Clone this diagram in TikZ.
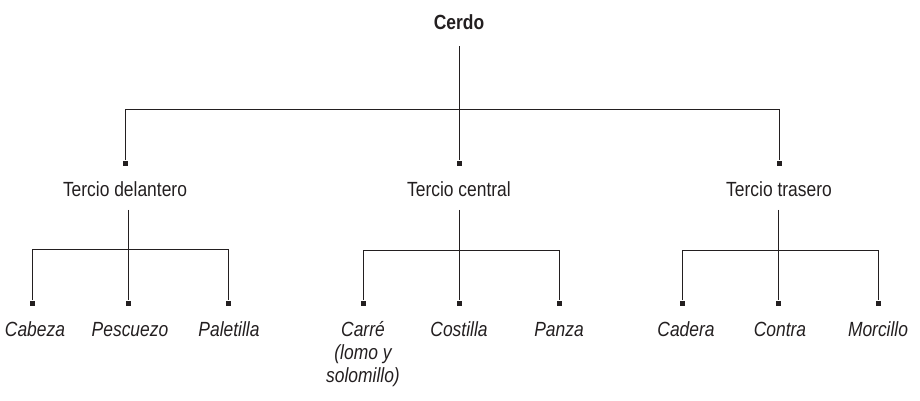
\documentclass[tikz,border=0pt]{standalone}
\usepackage{fontspec}
\setmainfont{Liberation Sans}[FakeStretch=0.85]
\usepackage{tikz}
\usetikzlibrary{positioning}
\usepackage{xcolor}
\definecolor{ink}{HTML}{231F20}

\begin{document}
\begin{tikzpicture}[x=1pt, y=-1pt, line width=0.9pt, draw=ink, text=ink]
\tikzset{stub/.style={rectangle, fill=ink, inner sep=0pt, minimum size=5pt}}
\tikzstyle{branch} = [anchor=base, font=\fontsize{20.5}{24}\selectfont]
\tikzstyle{leaf} = [anchor=base, font=\fontsize{20.5}{23}\selectfont\itshape]
\useasboundingbox (0,0) rectangle (920,401);

\node [font=\fontsize{20.5}{24}\selectfont\bfseries, text=ink] (v0) at (459,22) {Cerdo};
\node [stub] (v1) at (125,163) {};
\node [stub] (v2) at (459,163) {};
\node [stub] (v3) at (779,163) {};
\coordinate (b1) at (125,109);
\coordinate (b3) at (779,109);
\draw [ink, shorten <=13pt] (v0) -- (v2);
\draw [ink] (v1) -- (b1) -- (b3) -- (v3);

\node [branch] (t1) at (125,196) {Tercio delantero};
\node [branch] (t2) at (459,196) {Tercio central};
\node [branch] (t3) at (779,196) {Tercio trasero};

\node [stub] (v4) at (32,303) {};
\node [stub] (v5) at (128,303) {};
\node [stub] (v6) at (228,303) {};
\node [stub] (v7) at (363,303) {};
\node [stub] (v8) at (459,303) {};
\node [stub] (v9) at (559,303) {};
\node [stub] (v10) at (682,303) {};
\node [stub] (v11) at (778,303) {};
\node [stub] (v12) at (878,303) {};
\coordinate (b4) at (32,249);
\coordinate (b6) at (228,249);
\coordinate (b7) at (363,250);
\coordinate (b9) at (559,250);
\coordinate (b10) at (682,250);
\coordinate (b12) at (878,250);
\draw [ink] (v5 |- t1.south) ++(0,10) -- (v5);
\draw [ink] (v8 |- t2.south) ++(0,10) -- (v8);
\draw [ink] (v11 |- t3.south) ++(0,10) -- (v11);
\draw [ink] (v4) -- (b4) -- (b6) -- (v6);
\draw [ink] (v7) -- (b7) -- (b9) -- (v9);
\draw [ink] (v10) -- (b10) -- (b12) -- (v12);

\node [leaf] (l1) at (35,336) {Cabeza};
\node [leaf] (l2) at (130,336) {Pescuezo};
\node [leaf] (l3) at (229,336) {Paletilla};
\node [leaf] (l4) at (363,336) {\begin{tabular}[t]{@{}c@{}}Carré\\(lomo y\\solomillo)\end{tabular}};
\node [leaf] (l5) at (459,336) {Costilla};
\node [leaf] (l6) at (559,336) {Panza};
\node [leaf] (l7) at (686,336) {Cadera};
\node [leaf] (l8) at (780,336) {Contra};
\node [leaf] (l9) at (878,336) {Morcillo};
\end{tikzpicture}
\end{document}
